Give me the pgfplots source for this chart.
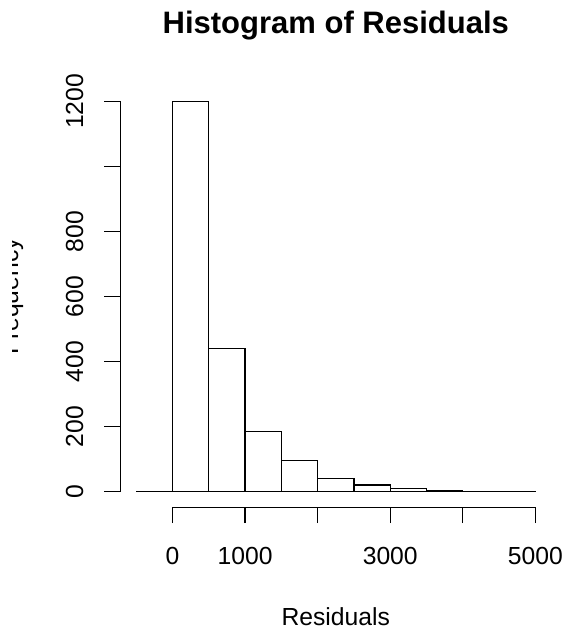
\documentclass[border=0pt]{standalone}
\usepackage{fontspec}
\setmainfont{Liberation Sans}
\usepackage{pgfplots}
\pgfplotsset{compat=1.18}

\begin{document}
\begin{tikzpicture}
% page = 566x631 px at 0.5pt per px
\useasboundingbox (0,0) rectangle (283pt,315.5pt);
\clip (6.35pt,0) rectangle (283pt,315.5pt);
\begin{axis}[
  at={(60.1pt,61.95pt)}, anchor=south west,
  scale only axis,
  width=215.6pt, height=210.6pt,
  xmin=-720, xmax=5220, ymin=-48, ymax=1248,
  axis line style={draw=none},
  tick pos=left, tick align=outside,
  major tick length=8pt,
  tick style={black, line width=0.6pt},
  xtick={0,1000,...,5000}, xticklabels={0,1000,,3000,,5000},
  ytick={0,200,...,1200}, yticklabels={0,200,400,600,800,,1200},
  scaled ticks=false,
  tick label style={font=\fontsize{12.35}{14}\selectfont},
  xticklabel style={anchor=base, yshift=-20.5pt},
  % shifts below act in the rotated frame: yshift>0 moves left
  yticklabel style={rotate=90, anchor=base, yshift=10.5pt},
  title={Histogram of Residuals},
  title style={font=\bfseries\fontsize{15.5}{18}\selectfont, at={(0.5,1)}, anchor=base, yshift=20.2pt},
  xlabel={Residuals},
  xlabel style={font=\fontsize{12.35}{14}\selectfont, at={(0.5,0)}, anchor=base, yshift=-59pt},
  ylabel={Frequency},
  ylabel style={font=\fontsize{12.35}{14}\selectfont, at={(0,0.5)}, anchor=base, yshift=51pt},
]
\addplot[ybar interval, fill=white, draw=black, line width=0.6pt] coordinates {
  (-500,0) (0,1200) (500,441) (1000,185) (1500,95) (2000,40)
  (2500,20) (3000,9) (3500,4) (4000,1) (4500,1) (5000,1)
};
\draw[black, line width=0.6pt] (axis cs:0,-48) -- (axis cs:5000,-48);
\draw[black, line width=0.6pt] (axis cs:-720,0) -- (axis cs:-720,1200);
\end{axis}
\end{tikzpicture}
\end{document}
